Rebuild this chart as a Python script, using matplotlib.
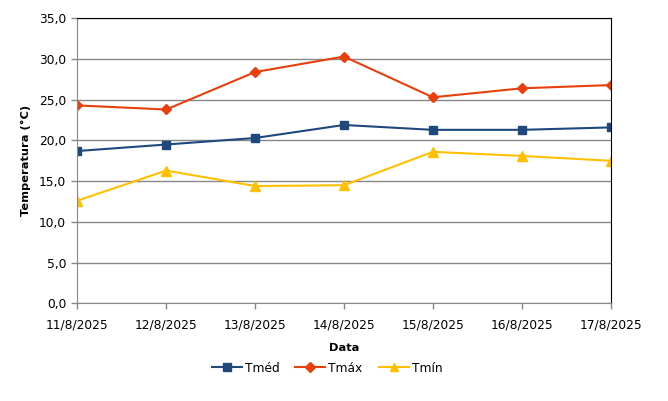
import matplotlib
matplotlib.use("Agg")
import matplotlib.pyplot as plt
from matplotlib.ticker import FuncFormatter

datas = ["11/8/2025", "12/8/2025", "13/8/2025", "14/8/2025", "15/8/2025", "16/8/2025", "17/8/2025"]
tmed = [18.7, 19.5, 20.3, 21.9, 21.3, 21.3, 21.6]
tmax = [24.3, 23.8, 28.4, 30.3, 25.3, 26.4, 26.8]
tmin = [12.6, 16.3, 14.4, 14.5, 18.6, 18.1, 17.5]

plt.rcParams['font.family'] = ['DejaVu Sans']
plt.rcParams['font.size'] = 8.8

fig = plt.figure(figsize=(6.68, 4.01), dpi=100)
ax = fig.add_axes([0.1157, 0.2436, 0.7985, 0.7108])

x = list(range(len(datas)))
ax.plot(x, tmed, color='#1F497D', marker='s', markersize=6, linewidth=1.5, label='Tméd')
ax.plot(x, tmax, color='#E8400C', marker='D', markersize=5.5, linewidth=1.5, label='Tmáx')
ax.plot(x, tmin, color='#FFC000', marker='^', markersize=6.5, linewidth=1.5, label='Tmín')

ax.set_xlim(0, len(datas) - 1)
ax.set_ylim(0, 35)
ax.set_yticks(range(0, 36, 5))
ax.yaxis.set_major_formatter(FuncFormatter(lambda v, p: f"{v:.1f}".replace('.', ',')))
ax.set_xticks(x)
ax.set_xticklabels(datas)

ax.grid(axis='y', color='#888888', linewidth=1)
ax.set_axisbelow(True)
for s in ['left', 'bottom']:
    ax.spines[s].set_color('#888888')
for s in ['top', 'right']:
    ax.spines[s].set_color('black')
ax.tick_params(axis='both', colors='#888888', labelcolor='black', length=4, width=1)
ax.tick_params(axis='x', pad=7)
ax.tick_params(axis='y', pad=4)

ax.set_ylabel('Temperatura (°C)', fontweight='bold', fontsize=8.2, labelpad=6)
ax.set_xlabel('Data', fontweight='bold', fontsize=8.2, labelpad=8)

fig.legend(loc='center', bbox_to_anchor=(327 / 668, 1 - 368 / 401), ncol=3, frameon=False,
           handlelength=2.45, columnspacing=1.3, handletextpad=0.25, markerscale=0.9)

fig.savefig('out.png', dpi=100)
